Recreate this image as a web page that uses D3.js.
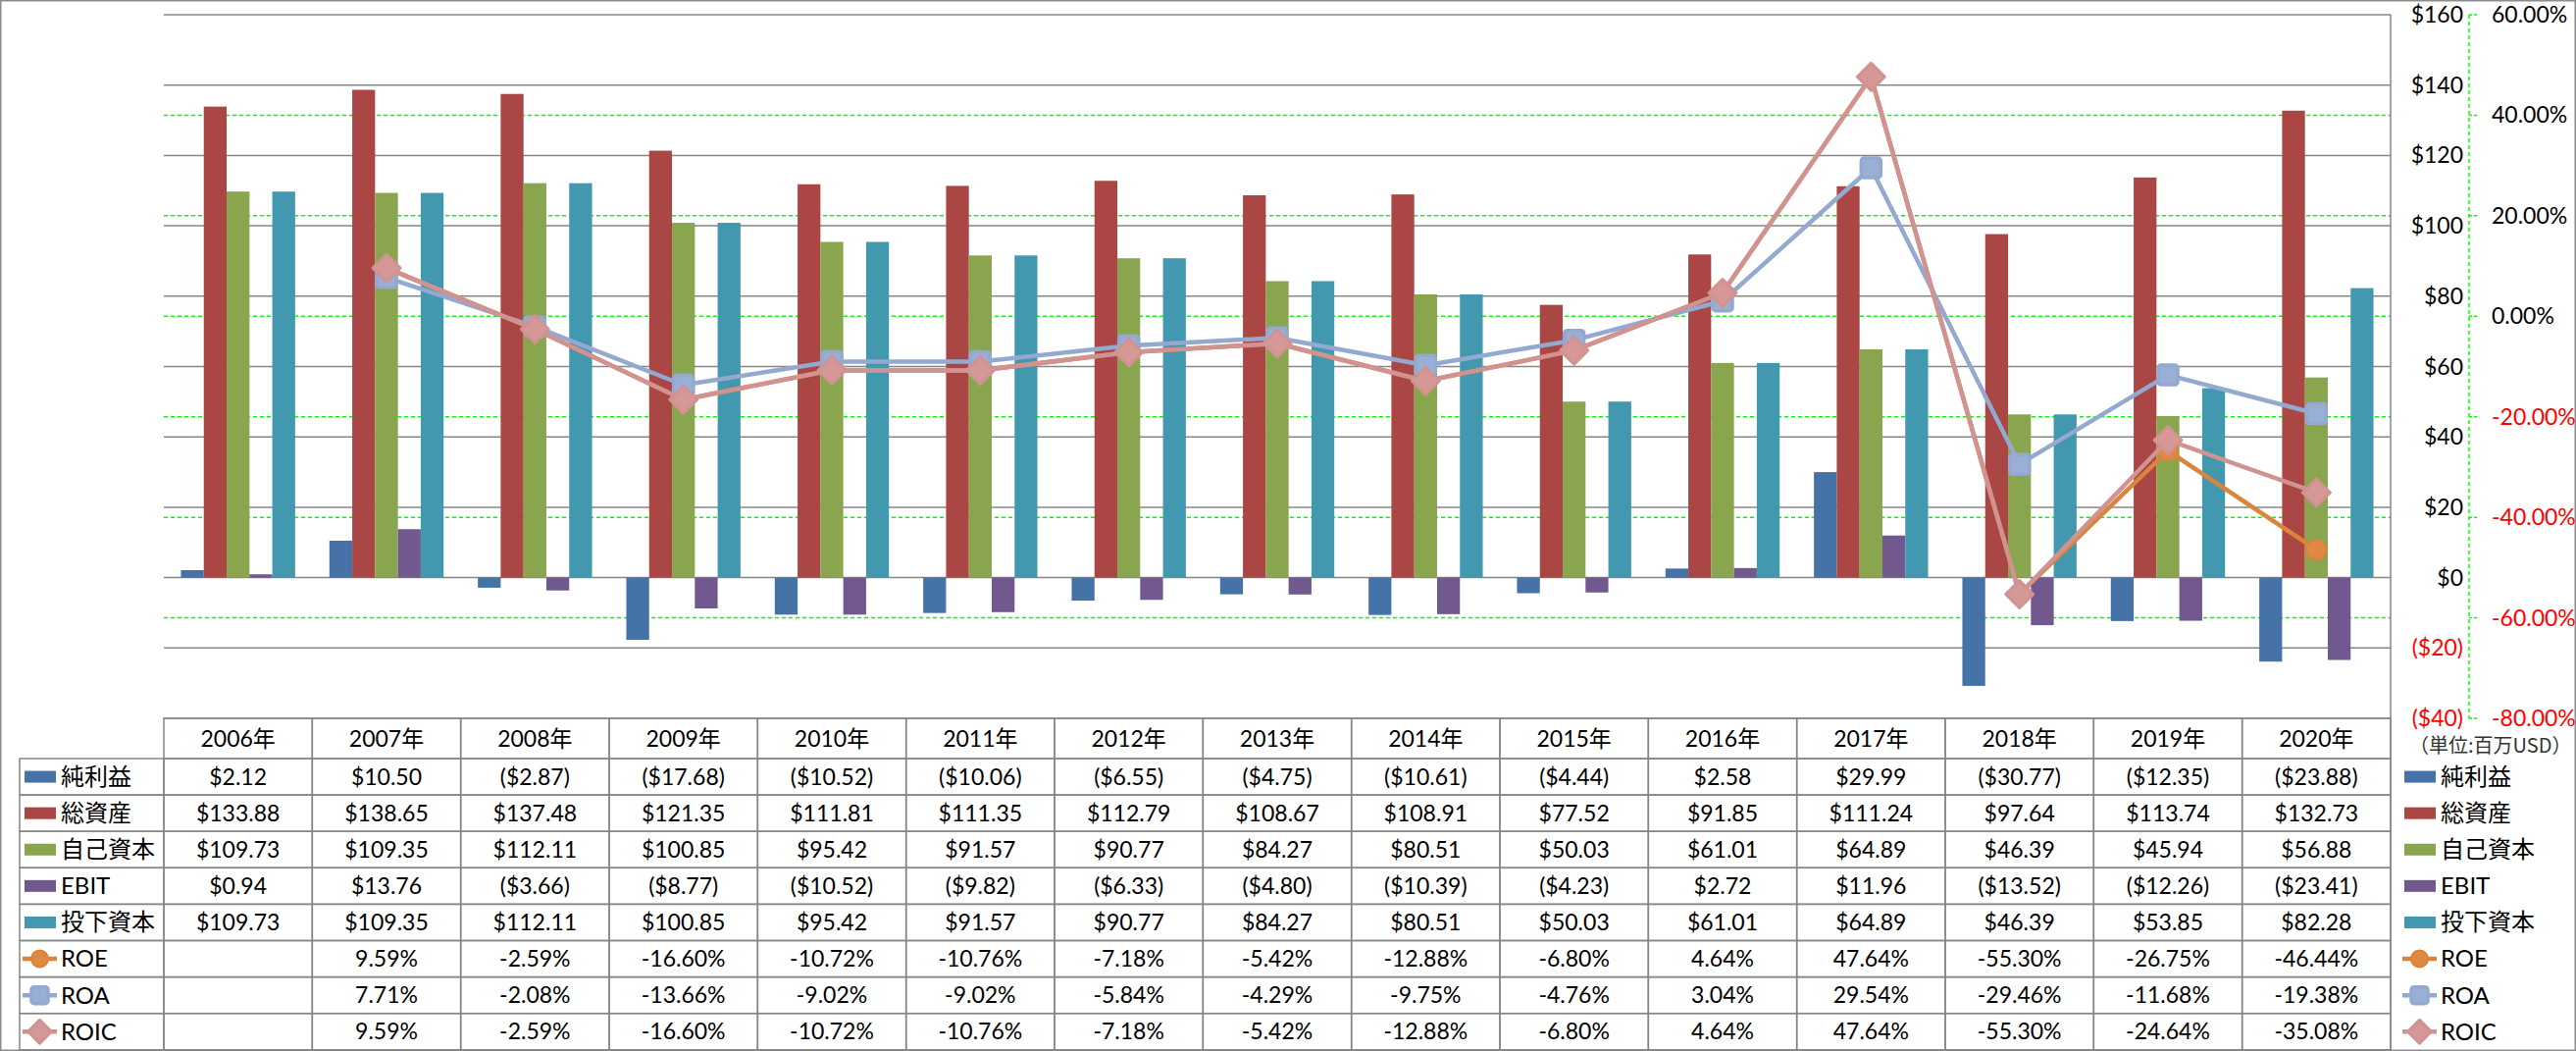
<!DOCTYPE html>
<html><head><meta charset="utf-8">
<script src="https://cdn.jsdelivr.net/npm/d3@7"></script>
<style>body{margin:0;background:#fff}svg{display:block}</style>
</head><body>
<svg id="c" width="2626" height="1071"></svg>
<script>
const years = ["2006年","2007年","2008年","2009年","2010年","2011年","2012年","2013年","2014年","2015年","2016年","2017年","2018年","2019年","2020年"];
const netIncome   = [2.12,10.50,-2.87,-17.68,-10.52,-10.06,-6.55,-4.75,-10.61,-4.44,2.58,29.99,-30.77,-12.35,-23.88];
const totalAssets = [133.88,138.65,137.48,121.35,111.81,111.35,112.79,108.67,108.91,77.52,91.85,111.24,97.64,113.74,132.73];
const equity      = [109.73,109.35,112.11,100.85,95.42,91.57,90.77,84.27,80.51,50.03,61.01,64.89,46.39,45.94,56.88];
const ebit        = [0.94,13.76,-3.66,-8.77,-10.52,-9.82,-6.33,-4.80,-10.39,-4.23,2.72,11.96,-13.52,-12.26,-23.41];
const investedCap = [109.73,109.35,112.11,100.85,95.42,91.57,90.77,84.27,80.51,50.03,61.01,64.89,46.39,53.85,82.28];
const roe  = [null,9.59,-2.59,-16.60,-10.72,-10.76,-7.18,-5.42,-12.88,-6.80,4.64,47.64,-55.30,-26.75,-46.44];
const roa  = [null,7.71,-2.08,-13.66,-9.02,-9.02,-5.84,-4.29,-9.75,-4.76,3.04,29.54,-29.46,-11.68,-19.38];
const roic = [null,9.59,-2.59,-16.60,-10.72,-10.76,-7.18,-5.42,-12.88,-6.80,4.64,47.64,-55.30,-24.64,-35.08];
const dollarTicks = [-40,-20,0,20,40,60,80,100,120,140,160];
const pctTicks = [-80,-60,-40,-20,0,20,40,60];
const unitLabel = "（単位:百万USD）";

const barSeries = [
  {name:"純利益", values:netIncome, color:"#4572A7"},
  {name:"総資産", values:totalAssets, color:"#AA4643"},
  {name:"自己資本", values:equity, color:"#89A54E"},
  {name:"EBIT", values:ebit, color:"#71588F"},
  {name:"投下資本", values:investedCap, color:"#4198AF"}
];
const lineSeries = [
  {name:"ROE", values:roe, color:"#DB843D", fill:"#DE8A45", marker:"circle"},
  {name:"ROA", values:roa, color:"#93A9CF", fill:"#9AAFD5", marker:"square"},
  {name:"ROIC", values:roic, color:"#D19392", fill:"#D59896", marker:"diamond"}
];

const svg = d3.select("#c");
const F = "Lato, 'Noto Sans CJK JP', sans-serif";
const P = {left:167, right:2437, top:15, bottom:732};
const gray = "#868686";

svg.append("rect").attr("x",0.75).attr("y",0.75).attr("width",2624.5).attr("height",1069.5)
  .attr("fill","#fff").attr("stroke","#8c8c8c").attr("stroke-width",1.5);

const x0 = d3.scaleBand().domain(years).range([P.left,P.right]);
const x1 = d3.scaleBand().domain(d3.range(barSeries.length)).range([0,x0.bandwidth()]).paddingOuter(0.75);
const yL = d3.scaleLinear().domain([-40,160]).range([P.bottom,P.top]);
const yR = d3.scaleLinear().domain([-80,60]).range([P.bottom,P.top]);

// green dashed percent grid (inner ticks only)
svg.append("g").selectAll("line").data(pctTicks.slice(1,-1)).join("line")
  .attr("x1",P.left).attr("x2",P.right).attr("y1",d=>yR(d)).attr("y2",d=>yR(d))
  .attr("stroke","#00FF00").attr("stroke-width",1.5).attr("stroke-dasharray","4,3");
// gray dollar grid
svg.append("g").selectAll("line").data(dollarTicks).join("line")
  .attr("x1",P.left).attr("x2",P.right).attr("y1",d=>yL(d)).attr("y2",d=>yL(d))
  .attr("stroke",gray).attr("stroke-width",1.5);

// bars
const gBars = svg.append("g");
barSeries.forEach((s,si)=>{
  gBars.append("g").selectAll("rect").data(s.values).join("rect")
    .attr("x",(d,i)=>x0(years[i])+x1(si))
    .attr("width",x1.bandwidth())
    .attr("y",d=>yL(Math.max(0,d)))
    .attr("height",d=>Math.abs(yL(d)-yL(0)))
    .attr("fill",s.color);
});

function marker(g, type, cx, cy, sc, fill, stroke){
  if(type==="circle"){
    g.append("circle").attr("cx",cx).attr("cy",cy).attr("r",10*sc).attr("fill",fill).attr("stroke",stroke).attr("stroke-width",2);
  } else if(type==="square"){
    const s=20*sc;
    g.append("rect").attr("x",cx-s/2).attr("y",cy-s/2).attr("width",s).attr("height",s).attr("rx",3)
      .attr("fill",fill).attr("stroke",stroke).attr("stroke-width",3.5);
  } else {
    const r=14*sc;
    g.append("path").attr("d",`M${cx},${cy-r}L${cx+r},${cy}L${cx},${cy+r}L${cx-r},${cy}Z`)
      .attr("fill",fill).attr("stroke",stroke).attr("stroke-width",3).attr("stroke-linejoin","round");
  }
}

const cx = i => x0(years[i]) + x0.bandwidth()/2;
lineSeries.forEach(s=>{
  const line = d3.line().defined(d=>d!=null).x((d,i)=>cx(i)).y(d=>yR(d));
  const g = svg.append("g");
  g.append("path").datum(s.values).attr("d",line).attr("fill","none")
    .attr("stroke",s.color).attr("stroke-width",4.5).attr("stroke-linejoin","round");
  s.values.forEach((v,i)=>{ if(v!=null) marker(g,s.marker,cx(i),yR(v),1,s.fill,s.color); });
});

svg.append("line").attr("x1",P.right).attr("x2",P.right).attr("y1",P.top).attr("y2",1070)
  .attr("stroke",gray).attr("stroke-width",1.5);

const axX = 2517;
svg.append("line").attr("x1",axX).attr("x2",axX).attr("y1",P.top).attr("y2",P.bottom)
  .attr("stroke","#00FF00").attr("stroke-width",1.5).attr("stroke-dasharray","4,3");
svg.append("g").selectAll("line").data(pctTicks).join("line")
  .attr("x1",axX).attr("x2",axX+8).attr("y1",d=>yR(d)).attr("y2",d=>yR(d))
  .attr("stroke","#00FF00").attr("stroke-width",1.5).attr("stroke-dasharray","3,2");
const fmtDollarAxis = v => v<0 ? `($${Math.abs(v)})` : `$${v}`;
svg.append("g").selectAll("text").data(dollarTicks).join("text")
  .attr("x",2511).attr("y",d=>yL(d)).attr("dy","0.35em").attr("text-anchor","end")
  .attr("font-family",F).attr("font-size",23).attr("fill",d=>d<0?"#FF0000":"#000")
  .text(fmtDollarAxis);
svg.append("g").selectAll("text").data(pctTicks).join("text")
  .attr("x",2540).attr("y",d=>yR(d)).attr("dy","0.35em").attr("text-anchor","start")
  .attr("font-family",F).attr("font-size",23).attr("fill",d=>d<0?"#FF0000":"#000")
  .text(d=>d.toFixed(2)+"%");
svg.append("text").attr("x",2456).attr("y",760).attr("dy","0.35em")
  .attr("font-family","'Noto Sans CJK JP', sans-serif").attr("font-size",20).attr("fill","#333")
  .text(unitLabel);

const hdrTop = 732, hdrBot = 773, rowH = 37.1;
const tbl = svg.append("g");
const bw = x0.bandwidth();
years.forEach((y,i)=>{
  tbl.append("rect").attr("x",x0(y)).attr("y",hdrTop).attr("width",bw).attr("height",hdrBot-hdrTop)
    .attr("fill","none").attr("stroke",gray).attr("stroke-width",1.5);
  tbl.append("text").attr("x",x0(y)+bw/2).attr("y",(hdrTop+hdrBot)/2).attr("dy","0.35em")
    .attr("text-anchor","middle").attr("font-family",F).attr("font-size",23).text(y);
});
const fmtDollar = v => v<0 ? `($${Math.abs(v).toFixed(2)})` : `$${v.toFixed(2)}`;
const fmtPct = v => v==null ? "" : v.toFixed(2)+"%";
const rows = [...barSeries.map(s=>({...s,kind:"bar"})), ...lineSeries.map(s=>({...s,kind:"line"}))];

function legendKey(g, s, xStart, cy){
  if(s.kind==="bar"){
    g.append("rect").attr("x",xStart+2).attr("y",cy-6).attr("width",32).attr("height",12).attr("fill",s.color);
  } else {
    g.append("line").attr("x1",xStart).attr("x2",xStart+35).attr("y1",cy).attr("y2",cy)
      .attr("stroke",s.color).attr("stroke-width",4.5);
    marker(g,s.marker,xStart+17.5,cy,0.85,s.fill,s.color);
  }
}

rows.forEach((s,r)=>{
  const top = hdrBot + r*rowH, cy = top + rowH/2;
  tbl.append("rect").attr("x",20).attr("y",top).attr("width",P.left-20).attr("height",rowH)
    .attr("fill","none").attr("stroke",gray).attr("stroke-width",1.5);
  legendKey(tbl,s,23,cy);
  tbl.append("text").attr("x",62).attr("y",cy).attr("dy","0.35em").attr("font-family",F)
    .attr("font-size",24).text(s.name);
  s.values.forEach((v,i)=>{
    tbl.append("rect").attr("x",x0(years[i])).attr("y",top).attr("width",bw).attr("height",rowH)
      .attr("fill","none").attr("stroke",gray).attr("stroke-width",1.5);
    tbl.append("text").attr("x",x0(years[i])+bw/2).attr("y",cy).attr("dy","0.35em")
      .attr("text-anchor","middle").attr("font-family",F).attr("font-size",23)
      .text(s.kind==="bar"?fmtDollar(v):fmtPct(v));
  });
  legendKey(svg,s,2449,cy);
  svg.append("text").attr("x",2488).attr("y",cy).attr("dy","0.35em").attr("font-family",F)
    .attr("font-size",24).text(s.name);
});
</script>
</body></html>
